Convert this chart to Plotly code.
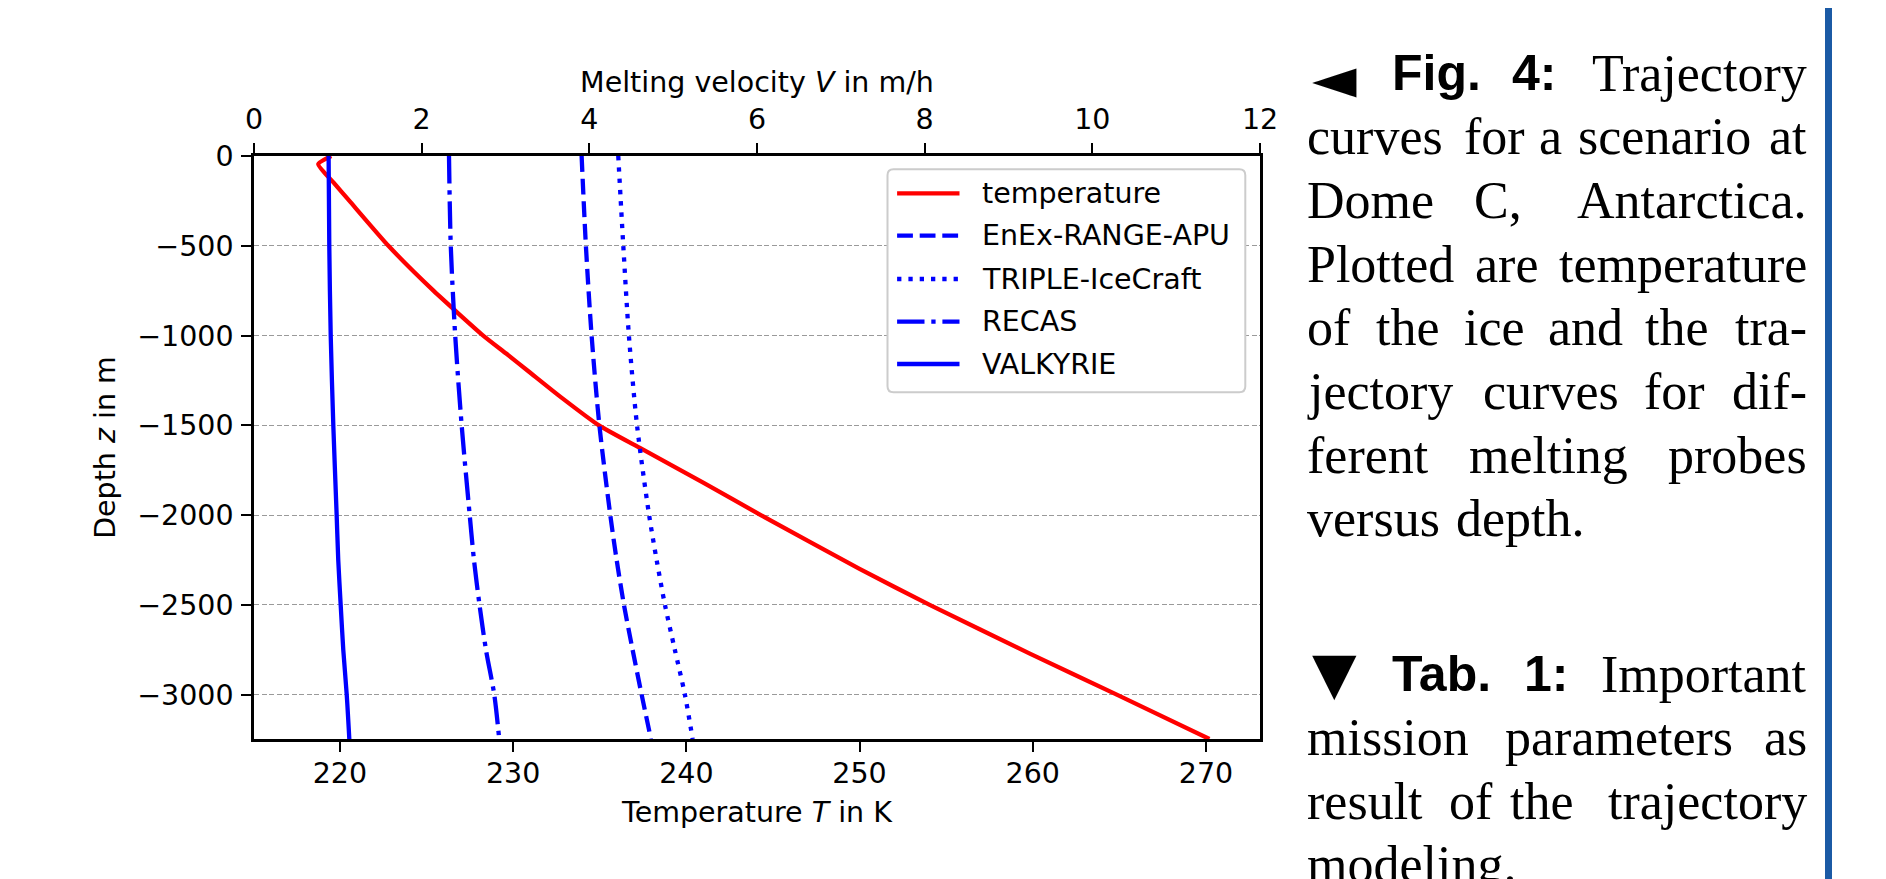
import plotly.graph_objects as go

# ---------------- data ----------------
depth_T = [0, -45, -150, -250, -500, -750, -1000, -1100, -1200, -1350, -1500,
           -1630, -1820, -2000, -2300, -2500, -2770, -3000, -3247]
temperature = [219.5, 218.75, 219.65, 220.55, 222.8, 225.4, 228.27, 229.6, 230.9,
               232.85, 234.95, 237.4, 241.0, 244.3, 250.0, 254.05, 259.8, 264.85, 270.2]

depth_V = [0, -500, -1000, -1500, -2000, -2250, -2500, -2750, -3000, -3247]
v_enex = [3.908, 3.959, 4.027, 4.12, 4.25, 4.326, 4.413, 4.516, 4.624, 4.735]
v_triple = [4.345, 4.405, 4.472, 4.569, 4.713, 4.803, 4.902, 5.02, 5.14, 5.232]
v_recas = [2.326, 2.347, 2.40, 2.477, 2.573, 2.624, 2.69, 2.767, 2.866, 2.925]
v_valkyrie = [0.89, 0.898, 0.915, 0.946, 0.986, 1.005, 1.034, 1.065, 1.106, 1.137]

series_names = ["temperature", "EnEx-RANGE-APU", "TRIPLE-IceCraft", "RECAS", "VALKYRIE"]
series_colors = ["#ff0000", "#0000ff", "#0000ff", "#0000ff", "#0000ff"]
series_dash = ["solid", "15.8px,6.8px", "4.3px,7px", "27.4px,6.8px,4.3px,6.8px", "solid"]

temp_ticks = [220, 230, 240, 250, 260, 270]
vel_ticks = [0, 2, 4, 6, 8, 10, 12]
depth_ticks = [0, -500, -1000, -1500, -2000, -2500, -3000]

# ---------------- geometry helpers (screen pixel -> paper) ----------------
W, H = 1886, 879
BODY = 8                      # default page margin of the html body
PL, PR, PT, PB = 254, 1260, 156, 739   # plot area on screen


def px(x):
    return (x - PL) / (PR - PL)


def py(y):
    return (PB - y) / (PB - PT)


LW = 4.3
FS = 28.5

fig = go.Figure()
fig.add_trace(go.Scatter(x=temperature, y=depth_T, mode="lines", name=series_names[0],
                         line=dict(color=series_colors[0], width=LW, dash=series_dash[0],
                                   shape="spline", smoothing=0.5),
                         xaxis="x", yaxis="y", showlegend=False))
for name, vals, col, dash in zip(series_names[1:], [v_enex, v_triple, v_recas, v_valkyrie],
                                 series_colors[1:], series_dash[1:]):
    fig.add_trace(go.Scatter(x=vals, y=depth_V, mode="lines", name=name,
                             line=dict(color=col, width=LW, dash=dash,
                                       shape="spline", smoothing=0.8),
                             xaxis="x2", yaxis="y", showlegend=False))

axis_common = dict(ticks="outside", ticklen=10, tickwidth=2.3, tickcolor="black",
                   showline=True, linewidth=2.5, linecolor="black", zeroline=False,
                   tickfont=dict(family="DejaVu Sans", size=FS, color="black"),
                   automargin=False)

ml, mt = PL - BODY, PT - BODY
fig.update_layout(
    width=W, height=H,
    margin=dict(l=ml, r=W - ml - (PR - PL), t=mt, b=H - mt - (PB - PT), pad=0),
    paper_bgcolor="white", plot_bgcolor="white",
    showlegend=False,
    font=dict(family="DejaVu Sans", size=FS, color="black"),
    xaxis=dict(range=[215.04, 273.12], tickvals=temp_ticks, showgrid=False,
               ticklabelstandoff=-3,
               title=dict(text="Temperature <i>T</i> in K", standoff=14,
                          font=dict(family="DejaVu Sans", size=FS)),
               **axis_common),
    xaxis2=dict(range=[0, 12], tickvals=vel_ticks, overlaying="x", side="top",
                anchor="y", showgrid=False, ticklabelstandoff=3,
                title=dict(text="Melting velocity <i>V</i> in m/h", standoff=2,
                           font=dict(family="DejaVu Sans", size=FS)),
                **axis_common),
    yaxis=dict(range=[-3247, 0], tickvals=depth_ticks, mirror=True,
               showgrid=True, gridcolor="#9a9a9a", gridwidth=1.4, griddash="5px,2.5px",
               ticklabelstandoff=2,
               title=dict(text="Depth <i>z</i> in m", standoff=14,
                          font=dict(family="DejaVu Sans", size=FS)),
               **axis_common),
)

shapes = []
annotations = []

# ---------------- legend (drawn matplotlib-style) ----------------
lx0, lx1, ly0, ly1, r = 887.5, 1245.3, 169.3, 392.3, 6
rx, ry = r / (PR - PL), r / (PB - PT)
X0, X1, Y0, Y1 = px(lx0), px(lx1), py(ly1), py(ly0)
path = (f"M{X0+rx},{Y0} L{X1-rx},{Y0} Q{X1},{Y0} {X1},{Y0+ry} L{X1},{Y1-ry} "
        f"Q{X1},{Y1} {X1-rx},{Y1} L{X0+rx},{Y1} Q{X0},{Y1} {X0},{Y1-ry} "
        f"L{X0},{Y0+ry} Q{X0},{Y0} {X0+rx},{Y0} Z")
shapes.append(dict(type="path", path=path, xref="paper", yref="paper",
                   fillcolor="white", line=dict(color="#cccccc", width=2), layer="above"))
legend_rows = [193.3, 235.7, 279.0, 321.7, 364.0]
for name, col, dash, yy in zip(series_names, series_colors, series_dash, legend_rows):
    shapes.append(dict(type="line", xref="paper", yref="paper",
                       x0=px(897.1), x1=px(959.5), y0=py(yy), y1=py(yy),
                       line=dict(color=col, width=LW, dash=dash), layer="above"))
    annotations.append(dict(text=name, xref="paper", yref="paper", x=px(981.3), y=py(yy),
                            xanchor="left", yanchor="middle", showarrow=False, borderpad=0,
                            font=dict(family="DejaVu Sans", size=FS, color="black")))

# ---------------- caption text on the right ----------------
SERIF = ("Liberation Serif", 52, 0.3375)
BOLD = ("Liberation Sans", 50, 0.3465)
TRI = ("DejaVu Sans", 58, None)

# (baseline, justified, [(word, left, right, font), ...]); triangles use glyph centre
caption = [
    (90.6, True, [("◄", 1315, 1353.3, TRI), ("<b>Fig.</b>", 1390, 1480, BOLD),
                  ("<b>4:</b>", 1511.7, 1555, BOLD), ("Trajectory", 1590, 1803.3, SERIF)]),
    (154.3, True, [("curves", 1308.3, 1445, SERIF), ("for", 1463.3, 1523.3, SERIF),
                   ("a", 1538.3, 1560, SERIF), ("scenario", 1578.3, 1748.3, SERIF),
                   ("at", 1760, 1803.3, SERIF)]),
    (218.0, True, [("Dome", 1308.3, 1436.7, SERIF), ("C,", 1463.3, 1530, SERIF),
                   ("Antarctica.", 1573.3, 1803.3, SERIF)]),
    (281.7, True, [("Plotted", 1308.3, 1458.3, SERIF), ("are", 1475, 1536.7, SERIF),
                   ("temperature", 1553.3, 1803.3, SERIF)]),
    (345.4, True, [("of", 1308.3, 1351.7, SERIF), ("the", 1376.7, 1436.7, SERIF),
                   ("ice", 1463.3, 1523.3, SERIF), ("and", 1546.7, 1621.7, SERIF),
                   ("the", 1643.3, 1708.3, SERIF), ("tra-", 1721.7, 1803.3, SERIF)]),
    (409.1, True, [("jectory", 1308.3, 1456.7, SERIF), ("curves", 1481.7, 1618.3, SERIF),
                   ("for", 1643.3, 1703.3, SERIF), ("dif-", 1730, 1803.3, SERIF)]),
    (472.8, True, [("ferent", 1308.3, 1431.7, SERIF), ("melting", 1468.3, 1626.7, SERIF),
                   ("probes", 1660, 1803.3, SERIF)]),
    (536.5, False, [("versus", 1308.3, 1445, SERIF), ("depth.", 1456.7, 1585, SERIF)]),
    (691.7, True, [("▼", 1316.7, 1351.7, TRI), ("<b>Tab.</b>", 1390, 1491.7, BOLD),
                   ("<b>1:</b>", 1523.3, 1566.7, BOLD), ("Important", 1598.3, 1803.3, SERIF)]),
    (755.2, True, [("mission", 1308.3, 1471.7, SERIF), ("parameters", 1501.7, 1733.3, SERIF),
                   ("as", 1763.3, 1803.3, SERIF)]),
    (818.7, True, [("result", 1308.3, 1425, SERIF), ("of", 1450, 1490, SERIF),
                   ("the", 1505, 1576.7, SERIF), ("trajectory", 1600, 1803.3, SERIF)]),
    (882.2, False, [("modeling.", 1308.3, 1510, SERIF)]),
]
TRI_CENTRE = {"◄": 78.5, "▼": 673.3}
for base, justified, words in caption:
    n = len(words)
    for i, (text, xl, xr, (fam, size, off)) in enumerate(words):
        if text in TRI_CENTRE:
            xa, xx, yc = "center", (xl + xr) / 2, TRI_CENTRE[text]
        else:
            yc = base - off * size
            if i == 0 or not justified:
                xa, xx = "left", xl - 2
            elif i == n - 1:
                xa, xx = "right", xr + 5
            else:
                xa, xx = "center", (xl + xr) / 2 + 1
        annotations.append(dict(text=text, xref="paper", yref="paper", x=px(xx),
                                y=py(yc), xanchor=xa, yanchor="middle",
                                showarrow=False, borderpad=0,
                                font=dict(family=fam, size=size, color="black")))

# blue vertical bar at the right edge of the page
shapes.append(dict(type="rect", xref="paper", yref="paper", x0=px(1825), x1=px(1832),
                   y0=py(H + 10), y1=py(-10), fillcolor="#1b5aa5", line=dict(width=0),
                   layer="above"))

fig.update_layout(shapes=shapes, annotations=annotations)
fig.write_html("out.html")
